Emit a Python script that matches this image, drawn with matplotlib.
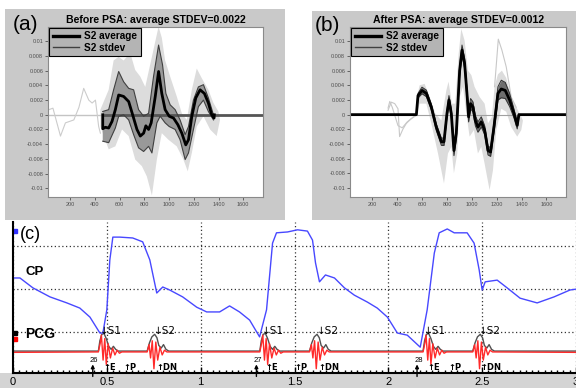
import numpy as np
import matplotlib
matplotlib.use("Agg")
import matplotlib.pyplot as plt
from matplotlib.patches import Rectangle
from matplotlib.lines import Line2D
from matplotlib.ticker import MultipleLocator

plt.rcParams['font.family'] = ['Liberation Sans', 'DejaVu Sans']

# ---------------- panel (a): before PSA (amplitudes in 1e-3) ----------------
a_mean_x = [463, 463, 484, 511, 538, 565, 592, 632, 673, 705, 740, 767, 794, 812, 834, 855, 888,
            915, 941, 968, 1001, 1036, 1071, 1103, 1135, 1157, 1184, 1216, 1251, 1286, 1318, 1345,
            1364, 1366]
a_mean_y = [0, -1.9, -1.7, -1.8, -0.9, 0.7, 2.7, 2.5, 1.8, 0, -2.0, -2.9, -2.5, -1.5, -2.0, -1.1,
            2.5, 5.9, 2.9, 0.7, -0.2, -0.45, -1.35, -2.5, -4.1, -3.4, -0.2, 2.3, 3.4, 2.9, 1.6, 0,
            -0.45, 0]
a_up_x = [463, 511, 551, 592, 632, 673, 713, 753, 794, 834, 874, 915, 947, 974, 1009, 1049, 1089,
          1130, 1157, 1197, 1237, 1278, 1318, 1359]
a_up_y = [0.45, 0.7, 3.4, 5.9, 4.5, 3.6, 3.4, 0.7, -0.2, 0.2, 5.2, 9.5, 6.8, 2.9, 1.35, 0.7, -0.7,
          -2.7, -1.6, 2.0, 3.8, 4.1, 2.3, 0]
a_lo_x = [463, 511, 565, 592, 632, 673, 713, 753, 794, 834, 861, 901, 928, 968, 1001, 1049, 1089,
          1130, 1157, 1197, 1237, 1278, 1318, 1359]
a_lo_y = [-3.6, -3.8, -1.8, -0.2, 0, -0.7, -2.7, -4.5, -5.0, -4.3, -5.2, -1.1, -0.2, -1.1, -1.6,
          -2.0, -3.4, -6.1, -5.2, -2.0, 1.1, 2.0, 0.45, -0.7]
a_cloud_up_x = [444, 511, 551, 592, 632, 686, 726, 767, 807, 861, 895, 915, 941, 968, 1009, 1062,
                1103, 1143, 1184, 1224, 1264, 1318, 1359, 1399, 1412]
a_cloud_up_y = [0.7, 3.4, 7.4, 7.9, 7.4, 8.4, 6.1, 5.2, 3.8, 7.9, 10.5, 12, 10.5, 7.4, 5.2, 2.5,
                0.2, -0.7, 3.4, 6.3, 5.0, 3.4, 1.6, 0.45, -0.7]
a_cloud_lo_x = [444, 511, 565, 619, 673, 726, 780, 820, 861, 901, 941, 995, 1062, 1116, 1151, 1184,
                1224, 1278, 1332, 1385, 1412]
a_cloud_lo_y = [-1.6, -4.7, -4.3, -2.0, -2.9, -6.1, -7.0, -8.4, -11, -6.1, -2.5, -3.4, -4.3, -6.1,
                -7.7, -5.2, -1.6, -0.2, -2.0, -2.9, -0.7]
a_trace_x = [27, 60, 121, 161, 229, 270, 309, 350, 377, 404, 430, 444]
a_trace_y = [0.7, 0.9, -2.9, -1.1, -0.7, 1.0, 3.6, 2.0, 1.6, 2.0, -1.6, -2.5]

# ---------------- panel (b): after PSA ----------------
b_mean_x = [20, 554, 567, 599, 634, 674, 714, 755, 776, 800, 816, 835, 856, 875, 902, 921, 942,
            963, 974, 990, 1009, 1028, 1049, 1076, 1103, 1130, 1151, 1178, 1210, 1237, 1269, 1304,
            1339, 1365, 1376, 1379, 1760]
b_mean_y = [0, 0, 2.6, 3.3, 2.9, 1.05, -1.7, -3.7, -3.7, 0.15, 2.0, 0.15, -4.9, -2.6, 6.0, 8.8,
            7.0, 2.4, -0.3, 1.5, 1.05, -0.8, -1.7, -1.0, -2.1, -4.9, -5.1, -1.7, 2.9, 3.5, 3.3, 2.0,
            0.15, -1.45, -0.3, 0, 0]
b_std = [0, 0, 0.3, 0.45, 0.45, 0.4, 0.45, 0.5, 0.5, 0.5, 0.6, 0.6, 0.7, 0.7, 0.7, 0.7, 0.7, 0.7,
         0.7, 0.7, 0.7, 0.7, 0.7, 0.7, 0.6, 0.6, 0.6, 0.7, 0.9, 1.2, 1.1, 0.9, 0.6, 0.5, 0.4, 0, 0]
b_cloud_up_x = [554, 580, 620, 661, 706, 755, 795, 813, 840, 867, 894, 915, 942, 969, 996, 1022,
                1063, 1103, 1130, 1162, 1183, 1210, 1242, 1277, 1317, 1357, 1398, 1411]
b_cloud_up_y = [2.0, 4.0, 4.2, 2.4, 0.15, -0.8, 3.3, 4.5, 1.5, 1.5, 8.3, 11.7, 10.1, 6.0, 5.4, 3.8,
                2.4, 1.5, -1.2, -0.3, 3.8, 5.5, 6.0, 5.0, 2.4, 1.05, -0.3, -0.8]
b_cloud_lo_x = [554, 580, 634, 674, 728, 776, 808, 835, 856, 883, 902, 929, 956, 982, 1017, 1049,
                1076, 1103, 1143, 1170, 1197, 1237, 1277, 1317, 1365, 1398, 1411]
b_cloud_lo_y = [-0.1, 1.5, 1.5, -1.2, -5.3, -9.4, -5.3, -4.4, -8.0, -5.3, 2.4, 3.8, 0.15, -3.0,
                -2.1, -5.3, -4.4, -6.7, -10.3, -7.6, -2.1, 0.8, 0.4, -1.7, -3.0, -2.1, -0.8]
b_trace1_x = [326, 352, 380, 406, 419, 445, 473, 510, 554]
b_trace1_y = [0.6, 1.7, 1.5, 0.8, -3.0, -2.0, -1.2, -0.6, -0.1]
b_trace2_x = [326, 340, 360, 406, 440, 480, 530, 554]
b_trace2_y = [0.9, 1.8, 1.0, -1.5, -1.8, -1.0, -0.3, 0]
b_trace3_x = [1183, 1213, 1242, 1277, 1317, 1357]
b_trace3_y = [3.8, 10.3, 8.8, 6.5, 2.4, 1.0]

ab_xticks = [200, 400, 600, 800, 1000, 1200, 1400, 1600]
ab_yticks = [-10, -8, -6, -4, -2, 0, 2, 4, 6, 8, 10]
ab_ylabels = ['-0.01', '-0.008', '-0.006', '-0.004', '-0.002', '0',
              '0.002', '0.004', '0.006', '0.008', '0.01']

# ---------------- panel (c): CP and PCG, time in s ----------------
cp_t = [0, 0.037, 0.106, 0.197, 0.287, 0.356, 0.41, 0.463, 0.479, 0.50, 0.516, 0.532, 0.569,
        0.638, 0.691, 0.729, 0.766, 0.798, 0.835, 0.904, 0.979, 1.032, 1.101, 1.154, 1.207, 1.261,
        1.314, 1.351, 1.383, 1.404, 1.463, 1.516, 1.569, 1.596, 1.612, 1.633, 1.665, 1.713, 1.766,
        1.819, 1.888, 1.941, 1.995, 2.048, 2.101, 2.170, 2.207, 2.245, 2.271, 2.314, 2.351, 2.420,
        2.457, 2.484, 2.500, 2.516, 2.580, 2.633, 2.702, 2.793, 2.883, 2.968, 3.0]
cp_v = [2.21, 2.21, 1.98, 1.77, 1.63, 1.51, 1.30, 0.93, 0.93, 1.47, 2.63, 3.16, 3.16, 3.14, 3.05,
        2.63, 1.86, 2.00, 1.93, 1.77, 1.53, 1.42, 1.42, 1.56, 1.42, 1.23, 0.84, 1.47, 3.02, 3.26,
        3.28, 3.33, 3.30, 3.09, 2.56, 2.12, 2.28, 2.21, 1.98, 1.81, 1.65, 1.51, 1.30, 0.93, 0.88,
        0.60, 1.47, 2.79, 3.26, 3.35, 3.26, 3.26, 3.02, 2.40, 1.93, 2.12, 2.16, 1.98, 1.74, 1.63,
        1.77, 1.93, 1.95]

s1_starts = [0.455, 1.315, 2.185]
s2_starts = [0.715, 1.58, 2.45]
# red PCG bursts (offset from burst start, value)
s1_red_dt = [0.000, 0.010, 0.016, 0.025, 0.034, 0.042, 0.052, 0.064, 0.076, 0.088, 0.100, 0.112, 0.125]
s1_red_v = [0.49, 0.70, 0.88, 0.30, 0.80, 0.20, 0.68, 0.35, 0.58, 0.42, 0.53, 0.46, 0.49]
s2_red_dt = [0.000, 0.010, 0.018, 0.027, 0.036, 0.046, 0.056, 0.068, 0.080, 0.092, 0.105]
s2_red_v = [0.49, 0.66, 0.35, 0.75, 0.10, 0.72, 0.30, 0.60, 0.42, 0.53, 0.49]
# grey envelope humps
s1_env_dt = [0.000, 0.008, 0.018, 0.030, 0.042, 0.055, 0.068, 0.080, 0.092, 0.105]
s1_env_v = [0.51, 0.75, 0.90, 0.92, 0.80, 0.62, 0.55, 0.62, 0.55, 0.51]
s2_env_dt = [0.000, 0.012, 0.025, 0.040, 0.052, 0.062, 0.075, 0.087, 0.100, 0.115]
s2_env_v = [0.51, 0.70, 0.84, 0.90, 0.82, 0.64, 0.58, 0.66, 0.55, 0.51]

s1_label_t = [0.463, 1.326, 2.19]
s2_label_t = [0.75, 1.62, 2.485]
e_label_t = [0.484, 1.345, 2.207]
p_label_t = [0.59, 1.50, 2.32]
dn_label_t = [0.766, 1.628, 2.49]
beat_t = [0.41, 1.282, 2.138]
beat_no = ['26', '27', '28']


def fig_rect(x0, y0, x1, y1, color):
    # pixel box (top-left origin) -> figure fraction rectangle
    return Rectangle((x0 / 576, 1 - y1 / 388), (x1 - x0) / 576, (y1 - y0) / 388,
                     transform=fig.transFigure, facecolor=color, edgecolor='none', zorder=-5)


def build(base, pieces):
    t, v = [0.0], [base]
    for st, dts, vals in sorted(pieces, key=lambda p: p[0]):
        t += [st + d for d in dts]
        v += vals
    t.append(3.0)
    v.append(base)
    return t, v


fig = plt.figure(figsize=(5.76, 3.88), dpi=100)
fig.add_artist(fig_rect(5, 9, 285, 220, '#c9c9c9'))
fig.add_artist(fig_rect(312, 11, 576, 220, '#c9c9c9'))
fig.add_artist(fig_rect(0, 373, 576, 388, '#d4d4d4'))


def style_ab(ax, title):
    ax.set_facecolor('white')
    ax.set_xlim(20, 1760)
    ax.set_ylim(-11.2, 12.0)
    ax.set_xticks(ab_xticks)
    ax.set_yticks(ab_yticks)
    ax.set_yticklabels(ab_ylabels)
    ax.tick_params(labelsize=4, colors='#505050', length=2, width=0.6, pad=1.5)
    for s in ax.spines.values():
        s.set_color('#8a8a8a')
        s.set_linewidth(0.8)
    ax.set_title(title, fontsize=7.6, fontweight='bold', pad=3)
    handles = [Line2D([], [], color='black', lw=2.4), Line2D([], [], color='#404040', lw=1)]
    leg = ax.legend(handles, ['S2 average', 'S2 stdev'], loc='upper left',
                    bbox_to_anchor=(0.0, 1.0), prop={'size': 7.2, 'weight': 'bold'},
                    facecolor='#b4b4b4', edgecolor='black', framealpha=1, fancybox=False,
                    borderpad=0.35, handlelength=2.6, labelspacing=0.15, handletextpad=0.6,
                    borderaxespad=0.1)
    leg.get_frame().set_linewidth(0.8)


# panel (a)
ax_a = fig.add_axes([48 / 576, 1 - 197 / 388, 215 / 576, 170.3 / 388])
ax_a.plot([20, 463], [0, 0], color='#c4c4c4', lw=1)
ax_a.plot(a_trace_x, a_trace_y, color='#cccccc', lw=0.8)
ax_a.fill(a_cloud_up_x + a_cloud_lo_x[::-1], a_cloud_up_y + a_cloud_lo_y[::-1],
          color='#dcdcdc', lw=0)
ax_a.fill(a_up_x + a_lo_x[::-1], a_up_y + a_lo_y[::-1], color='#999999', lw=0)
ax_a.plot([463, 1760], [0, 0], color='#555555', lw=2)
ax_a.plot(a_up_x, a_up_y, color='#404040', lw=0.8)
ax_a.plot(a_lo_x, a_lo_y, color='#404040', lw=0.8)
ax_a.plot(a_mean_x, a_mean_y, color='black', lw=2)
style_ab(ax_a, 'Before PSA: average STDEV=0.0022')

# panel (b)
ax_b = fig.add_axes([350 / 576, 1 - 196.7 / 388, 216.3 / 576, 170 / 388])
b_mean = np.array(b_mean_y)
b_s = np.array(b_std)
ax_b.plot([20, 1760], [0, 0], color='#a0a0a0', lw=0.8)
for tx, ty in [(b_trace1_x, b_trace1_y), (b_trace2_x, b_trace2_y), (b_trace3_x, b_trace3_y)]:
    ax_b.plot(tx, ty, color='#c8c8c8', lw=0.8)
ax_b.fill(b_cloud_up_x + b_cloud_lo_x[::-1], b_cloud_up_y + b_cloud_lo_y[::-1],
          color='#dcdcdc', lw=0)
ax_b.fill_between(b_mean_x, b_mean - b_s, b_mean + b_s, color='#6e6e6e', lw=0)
ax_b.plot(b_mean_x, b_mean + b_s, color='#303030', lw=0.7)
ax_b.plot(b_mean_x, b_mean - b_s, color='#303030', lw=0.7)
ax_b.plot(b_mean_x, b_mean_y, color='black', lw=2)
style_ab(ax_b, 'After PSA: average STDEV=0.0012')

fig.text(13 / 576, 1 - 24 / 388, '(a)', fontsize=15, va='center', ha='left')
fig.text(315 / 576, 1 - 25.5 / 388, '(b)', fontsize=15, va='center', ha='left')

# panel (c)
ax_c = fig.add_axes([13 / 576, 15 / 388, 563 / 576, 150.5 / 388])
ax_c.set_xlim(0, 3)
ax_c.set_ylim(0, 3.5)
ax_c.set_xticks([0, 0.5, 1, 1.5, 2, 2.5, 3])
ax_c.set_xticklabels(['0', '0.5', '1', '1.5', '2', '2.5', '3'])
ax_c.xaxis.set_minor_locator(MultipleLocator(1 / 30))
ax_c.set_yticks([0.95, 1.95, 2.95])
ax_c.set_yticklabels([])
ax_c.tick_params(axis='y', length=0)
ax_c.tick_params(axis='x', which='major', direction='in', length=4, width=1, labelsize=8, pad=3)
ax_c.tick_params(axis='x', which='minor', direction='in', length=2.5, width=1)
ax_c.grid(True, linestyle=(0, (1, 2)), color='#333333', lw=0.9)
ax_c.spines['top'].set_visible(False)
ax_c.spines['right'].set_visible(False)
ax_c.spines['left'].set_linewidth(1.5)
ax_c.spines['bottom'].set_linewidth(1.5)

red_t, red_v = build(0.48, [(s, s1_red_dt, s1_red_v) for s in s1_starts] +
                     [(s, s2_red_dt, s2_red_v) for s in s2_starts])
env_t, env_v = build(0.51, [(s, s1_env_dt, s1_env_v) for s in s1_starts] +
                     [(s, s2_env_dt, s2_env_v) for s in s2_starts])
ax_c.plot(env_t, env_v, color='#505050', lw=1)
ax_c.plot(red_t, red_v, color='#ff2a2a', lw=1)
ax_c.plot(cp_t, cp_v, color='#4848ff', lw=1)

arrow_font = 'DejaVu Sans'
for t in s1_label_t:
    ax_c.text(t, 0.86, '\u2193S1', fontsize=7.5, ha='left', va='bottom', family=arrow_font)
for t in s2_label_t:
    ax_c.text(t, 0.86, '\u2193S2', fontsize=7.5, ha='left', va='bottom', family=arrow_font)
for lab, ts in [('E', e_label_t), ('P', p_label_t), ('DN', dn_label_t)]:
    for t in ts:
        ax_c.text(t, 0.02, '\u2191' + lab, fontsize=6, ha='left', va='bottom',
                  fontweight='bold', family=arrow_font)
for t, n in zip(beat_t, beat_no):
    ax_c.text(t, 0.2, n, fontsize=5.5, ha='left', va='bottom')
    ax_c.annotate('', xy=(t + 0.015, 0.2), xytext=(t + 0.015, -0.08),
                  arrowprops=dict(arrowstyle='-|>', color='black', lw=1,
                                  mutation_scale=5, shrinkA=0, shrinkB=0),
                  annotation_clip=False)

ax_c.text(0.064, 2.35, 'CP', fontsize=9.5, fontweight='bold', va='center')
ax_c.text(0.064, 0.91, 'PCG', fontsize=10, fontweight='bold', va='center')
ax_c.text(0.037, 3.23, '(c)', fontsize=13, va='center')
ax_c.plot([0.008], [3.3], 's', color='#3030ff', ms=2.5, clip_on=False)
ax_c.plot([0.008], [0.94], 's', color='black', ms=2.5, clip_on=False)
ax_c.plot([0.008], [0.79], 's', color='red', ms=2.5, clip_on=False)

fig.savefig('out.png', dpi=100)
